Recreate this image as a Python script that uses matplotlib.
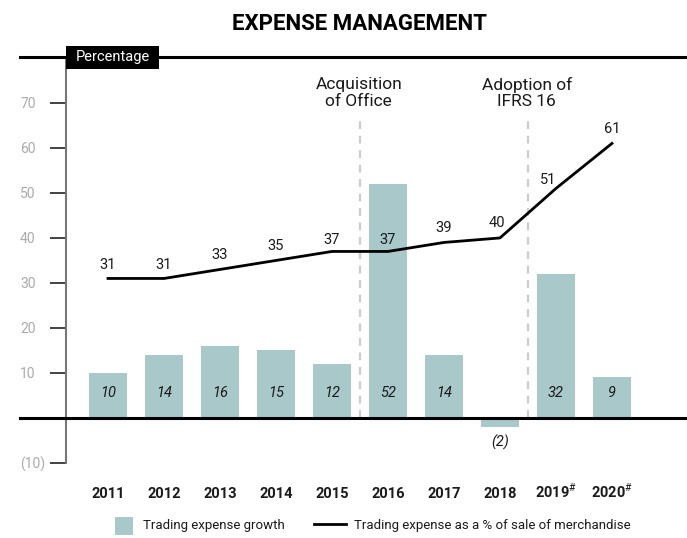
import matplotlib
matplotlib.use("Agg")
import matplotlib.pyplot as plt
from matplotlib.lines import Line2D
from matplotlib.patches import Rectangle
import numpy as np

years = ["2011", "2012", "2013", "2014", "2015", "2016", "2017", "2018", "2019$^{\\#}$", "2020$^{\\#}$"]
expense_growth = [10, 14, 16, 15, 12, 52, 14, -2, 32, 9]
expense_pct_sales = [31, 31, 33, 35, 37, 37, 39, 40, 51, 61]
growth_labels = ["10", "14", "16", "15", "12", "52", "14", "(2)", "32", "9"]
yticks = [-10, 10, 20, 30, 40, 50, 60, 70]
ytick_labels = ["(10)", "10", "20", "30", "40", "50", "60", "70"]
events = [(4.5, "Acquisition\nof Office"), (7.5, "Adoption of\nIFRS 16")]

plt.rcParams['font.family'] = ['Roboto', 'DejaVu Sans']
plt.rcParams['mathtext.fontset'] = 'custom'
plt.rcParams['mathtext.rm'] = 'Roboto'
plt.rcParams['mathtext.bf'] = 'Roboto:bold'
bar_color = '#a8c8ca'
txt = '#1a1a1a'

W, H = 687, 538
fig = plt.figure(figsize=(W / 100, H / 100), dpi=100)
ax = fig.add_axes([66 / W, 75 / H, 621 / W, 406 / H])
x = np.arange(len(years))

ax.bar(x, expense_growth, width=0.68, color=bar_color, zorder=2)
ax.plot(x, expense_pct_sales, color='black', lw=2.0, zorder=3)

for i, (g, lab) in enumerate(zip(expense_growth, growth_labels)):
    yl = 5.6 if g >= 0 else -5.5
    ax.text(i, yl, lab, ha='center', va='center', fontsize=10.5, style='italic', color=txt, zorder=4)

# label offsets (data units) to keep numbers clear of the line
offsets = {7: (-0.05, 3.3), 8: (-0.14, 1.9), 4: (0, 2.6), 5: (0, 2.6)}
for i, v in enumerate(expense_pct_sales):
    dx, dy = offsets.get(i, (0, 3.1))
    ax.text(i + dx, v + dy, str(v), ha='center', va='center', fontsize=10.5, color=txt, zorder=4)

for xe, label in events:
    ax.axvline(xe, ymin=10 / 90.2, ymax=(66.2 + 10) / 90.2, color='#cccccc', lw=1.6, ls=(0, (3.5, 3)), zorder=1)
    ax.text(xe - 0.02, 72.2, label, ha='center', va='center', fontsize=12.5, color=txt, linespacing=1.15)

ax.set_xlim(-0.75, 10.34)
ax.set_ylim(-10, 80.2)
ax.set_yticks(yticks)
ax.set_yticklabels(ytick_labels, color='#aaaaaa', fontsize=10, ha='left')
ax.tick_params(axis='y', length=11.5, width=1.2, color='#222222', pad=21.6)
ax.set_xticks(x)
ax.set_xticklabels(years, fontsize=10.5, fontweight='bold', color=txt, va='baseline')
ax.tick_params(axis='x', length=0, pad=25)
for s in ['top', 'right', 'bottom']:
    ax.spines[s].set_visible(False)
ax.spines['left'].set_color('#777777')
ax.spines['left'].set_linewidth(1.5)

# zero line and top rule run past the axes to the left
xm = (20 - 66) / 621
ax.axhline(0, xmin=xm, xmax=1, color='black', lw=2.2, clip_on=False, zorder=5)
ax.axhline(80.2, xmin=xm, xmax=1, color='black', lw=2.2, clip_on=False, zorder=5)

fig.add_artist(Rectangle((66 / W, 1 - 69 / H), 93 / W, 23 / H, transform=fig.transFigure,
                         fc='black', ec='none', zorder=6))
fig.text(112.5 / W, 1 - 57.5 / H, "Percentage", ha='center', va='center', fontsize=10.5,
         color='white', zorder=7)

fig.text(359 / W, 1 - 23.5 / H, "EXPENSE MANAGEMENT", ha='center', va='center', fontsize=16,
         fontweight='bold', color='black')

# legend
fig.add_artist(Rectangle((115 / W, 1 - 535 / H), 18 / W, 18 / H, transform=fig.transFigure,
                         fc=bar_color, ec='none'))
fig.text(143 / W, 1 - 526 / H, "Trading expense growth", ha='left', va='center', fontsize=9.5, color=txt)
fig.add_artist(Line2D([314 / W, 346 / W], [1 - 524 / H, 1 - 524 / H], transform=fig.transFigure,
                      color='black', lw=2.0))
fig.text(354 / W, 1 - 526 / H, "Trading expense as a % of sale of merchandise", ha='left', va='center',
         fontsize=9.5, color=txt)

fig.savefig("out.png", dpi=100)
